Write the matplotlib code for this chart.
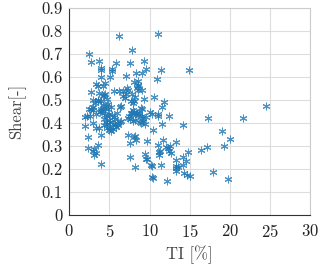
import matplotlib.pyplot as plt

# turbulence intensity [%] and shear exponent [-]
ti = [6.15, 11.0, 7.8, 2.4, 2.75, 3.65, 5.8, 7.6, 9.35, 14.9,
      11.4, 3.9, 3.9, 5.35, 5.3, 9.5, 8.3, 9.0, 7.1, 5.1,
      4.0, 10.9, 8.5, 8.1, 3.35, 3.6, 4.5, 4.2, 8.5, 8.4,
      7.2, 2.65, 3.65, 5.6, 6.2, 6.7, 7.05, 7.3, 6.7, 7.8,
      8.2, 8.55, 4.35, 4.5, 10.6, 11.8, 9.3, 3.6, 3.95, 4.75,
      7.7, 8.05, 7.95, 4.8, 2.95, 3.2, 11.55, 6.4, 8.9, 9.1,
      5.2, 24.5, 2.4, 2.65, 3.95, 3.0, 3.8, 4.05, 7.65, 8.0,
      8.4, 8.7, 7.9, 10.05, 11.0, 12.4, 11.05, 17.3, 21.7, 1.95,
      2.2, 2.6, 4.5, 4.75, 8.6, 9.0, 9.6, 5.6, 2.0, 2.35,
      2.95, 3.35, 3.7, 3.9, 3.55, 3.1, 2.3, 3.0, 3.1, 3.3,
      3.9, 4.55, 4.75, 4.75, 4.9, 5.05, 5.2, 5.4, 5.85, 5.7,
      6.1, 6.35, 6.5, 4.3, 5.05, 5.3, 5.7, 5.9, 7.3, 7.45,
      7.5, 7.95, 8.2, 8.8, 9.45, 9.05, 8.9, 10.45, 11.5, 14.15,
      7.3, 8.0, 8.2, 8.35, 7.6, 7.5, 8.15, 9.65, 11.65, 11.1,
      13.3, 12.0, 12.25, 12.4, 12.7, 11.2, 11.2, 9.45, 9.5, 9.7,
      10.2, 10.25, 11.4, 10.35, 10.4, 12.2, 13.35, 13.35, 13.3, 13.25,
      14.15, 14.55, 14.75, 14.2, 14.25, 14.7, 15.05, 16.35, 17.1, 17.85,
      19.0, 19.3, 20.05, 19.75, 4.0, 4.2, 4.6, 4.8, 6.36, 7.75,
      8.1, 3.55, 4.4, 4.2, 6.9, 8.6, 9.0, 5.0, 4.3, 6.0,
      3.3, 2.9, 4.9, 5.5, 8.3, 9.2, 10.3, 11.3, 12.6, 13.6]
shear = [0.781, 0.787, 0.72, 0.70, 0.665, 0.67, 0.663, 0.663, 0.67, 0.63,
         0.632, 0.642, 0.633, 0.636, 0.627, 0.634, 0.62, 0.618, 0.604, 0.60,
         0.601, 0.594, 0.582, 0.579, 0.569, 0.562, 0.573, 0.563, 0.566, 0.552,
         0.552, 0.534, 0.53, 0.54, 0.539, 0.54, 0.527, 0.543, 0.518, 0.528,
         0.515, 0.546, 0.523, 0.528, 0.514, 0.492, 0.505, 0.501, 0.498, 0.507,
         0.496, 0.498, 0.488, 0.485, 0.50, 0.486, 0.47, 0.473, 0.467, 0.46,
         0.469, 0.473, 0.462, 0.462, 0.462, 0.457, 0.45, 0.451, 0.446, 0.447,
         0.446, 0.444, 0.456, 0.45, 0.43, 0.431, 0.438, 0.421, 0.422, 0.427,
         0.432, 0.43, 0.437, 0.43, 0.435, 0.43, 0.427, 0.427, 0.386, 0.338,
         0.402, 0.379, 0.379, 0.347, 0.305, 0.289, 0.29, 0.277, 0.26, 0.27,
         0.222, 0.405, 0.396, 0.379, 0.369, 0.385, 0.366, 0.376, 0.383, 0.39,
         0.39, 0.404, 0.408, 0.418, 0.406, 0.434, 0.417, 0.443, 0.422, 0.43,
         0.417, 0.408, 0.412, 0.404, 0.396, 0.421, 0.402, 0.37, 0.395, 0.39,
         0.347, 0.34, 0.343, 0.325, 0.315, 0.253, 0.21, 0.322, 0.327, 0.306,
         0.316, 0.296, 0.292, 0.28, 0.269, 0.273, 0.261, 0.264, 0.245, 0.244,
         0.219, 0.215, 0.219, 0.167, 0.163, 0.148, 0.238, 0.215, 0.203, 0.192,
         0.253, 0.237, 0.276, 0.216, 0.184, 0.174, 0.171, 0.282, 0.296, 0.186,
         0.366, 0.302, 0.331, 0.155, 0.455, 0.48, 0.475, 0.46, 0.472, 0.445,
         0.45, 0.495, 0.465, 0.52, 0.51, 0.56, 0.545, 0.44, 0.39, 0.40,
         0.44, 0.47, 0.415, 0.395, 0.44, 0.41, 0.44, 0.28, 0.30, 0.21]

plt.rcParams['font.family'] = 'serif'
plt.rcParams['font.serif'] = ['cmr10']
plt.rcParams['mathtext.fontset'] = 'cm'
plt.rcParams['axes.formatter.use_mathtext'] = True

fig = plt.figure(figsize=(3.2, 2.66), dpi=100)
ax = fig.add_axes([0.2166, 0.1917, 0.7524, 0.7771])

ax.plot(ti, shear, linestyle='none', marker=(6, 2, 0), markersize=5.5,
        markeredgewidth=0.75, color='#1f77b4', alpha=0.8)

ax.set_xlim(0, 30)
ax.set_ylim(0, 0.9)
ax.set_xticks(range(0, 31, 5))
ax.set_yticks([i / 10 for i in range(10)])
ax.set_yticklabels(['0'] + ['0.%d' % i for i in range(1, 10)])

ax.grid(True, color='#dddddd', linewidth=0.8)
ax.set_axisbelow(True)
for side in ['top', 'right']:
    ax.spines[side].set_color('#cccccc')
for side in ['left', 'bottom']:
    ax.spines[side].set_color('#333333')
ax.tick_params(length=0, labelsize=12, colors='#222222', pad=5)
ax.tick_params(axis='x', pad=6)

ax.set_xlabel('TI [%]', fontsize=12, color='#444444', labelpad=4)
ax.set_ylabel('Shear[-]', fontsize=12, color='#444444', labelpad=11)

fig.savefig('out.png', dpi=100)
